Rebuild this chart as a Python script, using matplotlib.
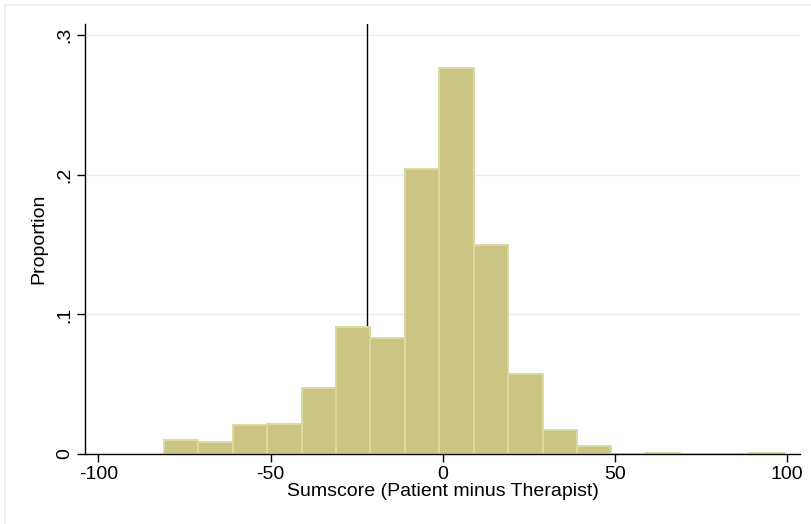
import matplotlib
matplotlib.use("Agg")
import matplotlib.pyplot as plt
from matplotlib.patches import Rectangle

plt.rcParams["font.family"] = ["Liberation Sans", "DejaVu Sans"]

# histogram bins (left edges, width 10) and proportions
bin_left = [-81, -71, -61, -51, -41, -31, -21, -11, -1, 9, 19, 29, 39, 49, 59, 69, 79, 89]
proportion = [0.0100, 0.0088, 0.0208, 0.0215, 0.0473, 0.0909, 0.0828, 0.2041, 0.2766,
              0.1499, 0.0575, 0.0174, 0.0060, 0.0, 0.0007, 0.0, 0.0, 0.0007]
bin_width = 10
ref_line = -22

xticks = [-100, -50, 0, 50, 100]
xticklabels = ["-100", "-50", "0", "50", "100"]
yticks = [0, 0.1, 0.2, 0.3]
yticklabels = ["0", ".1", ".2", ".3"]

fig = plt.figure(figsize=(8.11, 5.24), dpi=100)
ax = fig.add_axes([0.1053, 0.1336, 0.9865 - 0.1053, 0.9542 - 0.1336])

# faint outer frame (only left/top edges fall inside the image)
fig.patches.append(Rectangle((5 / 811, -0.05), 1.0, 1 - 5 / 524 + 0.05, transform=fig.transFigure,
                             fill=False, edgecolor="#eceff0", lw=1.2))

ax.grid(axis="y", color="#e6eff1", lw=1.0)
ax.set_axisbelow(True)
ax.axvline(ref_line, color="black", lw=1.0, zorder=1)
ax.bar(bin_left, proportion, width=bin_width, align="edge", color="#cbc583",
       edgecolor="#dcd8a2", linewidth=1.4, zorder=2)

ax.set_xlim(-103.8, 103.8)
ax.set_ylim(0, 0.308)
ax.set_xticks(xticks)
ax.set_xticklabels(xticklabels, fontsize=14)
ax.set_yticks(yticks)
ax.set_yticklabels(yticklabels, fontsize=14, rotation=90, va="center")
ax.tick_params(axis="both", length=6, width=1.0, color="black", pad=3)

for s in ["top", "right"]:
    ax.spines[s].set_visible(False)
ax.spines["left"].set_linewidth(1.0)
ax.spines["bottom"].set_linewidth(1.0)

ax.set_xlabel("Sumscore (Patient minus Therapist)", fontsize=14, labelpad=0)
ax.set_ylabel("Proportion", fontsize=14, labelpad=6)

fig.savefig("out.png", dpi=100)
